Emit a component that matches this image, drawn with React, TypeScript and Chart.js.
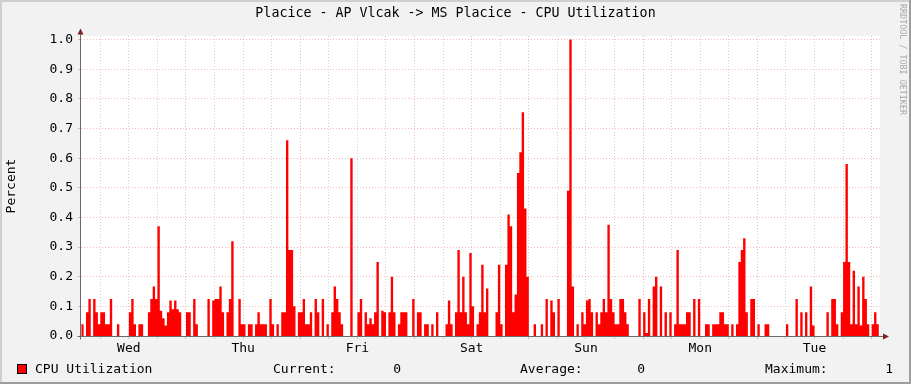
import React, { useEffect, useRef } from 'react';
import { Chart, registerables } from 'chart.js';

Chart.register(...registerables);

const TITLE = 'Placice - AP Vlcak -> MS Placice - CPU Utilization';
const Y_TITLE = 'Percent';
const SERIES_NAME = 'CPU Utilization';
const WATERMARK = 'RRDTOOL / TOBI OETIKER';
const DAY_LABELS = ['Wed', 'Thu', 'Fri', 'Sat', 'Sun', 'Mon', 'Tue'];
const LEGEND_STATS: [string, string][] = [
  ['Current:', '0'],
  ['Average:', '0'],
  ['Maximum:', '1'],
];
// hours after Wed 00:00
const X_TICKS = [6, 12, 18, 24, 30, 36, 42, 48, 54, 60, 66, 72, 78, 84, 90, 96, 102, 108, 114, 120, 126, 132, 138, 144, 150, 156, 162, 168];
const Y_TICKS = [0, 0.1, 0.2, 0.3, 0.4, 0.5, 0.6, 0.7, 0.8, 0.9, 1.0];
const X_MIN = 1.95;
const X_MAX = 169.75;
const Y_MAX = 1.012;
const START_HOUR = 2;
const STEP_HOURS = 0.5;

// CPU utilisation, one value per 30 minutes, starting Wed 02:00
const cpu = [
  0.04, 0, 0.08, 0.125, 0, 0.125, 0.08, 0.04, 0.08, 0.08, 0.04, 0.04, 0.125, 0, 0, 0.04, 0, 0, 0, 0, 0.08, 0.125, 0.04, 0,
  0.04, 0.04, 0, 0, 0.08, 0.125, 0.167, 0.125, 0.37, 0.085, 0.06, 0.035, 0.08, 0.12, 0.09, 0.12, 0.09, 0.08, 0, 0, 0.08, 0.08, 0, 0.125,
  0.04, 0, 0, 0, 0, 0.125, 0, 0.12, 0.125, 0.125, 0.167, 0.08, 0, 0.08, 0.125, 0.32, 0, 0, 0.125, 0.04, 0.04, 0, 0.04, 0.04,
  0, 0.04, 0.08, 0.04, 0.04, 0.04, 0, 0.125, 0.04, 0, 0.04, 0, 0.08, 0.08, 0.66, 0.29, 0.29, 0.1, 0, 0.08, 0.08, 0.125, 0.04, 0.04,
  0.08, 0, 0.125, 0.08, 0, 0.125, 0, 0.04, 0, 0.08, 0.167, 0.125, 0.08, 0.04, 0, 0, 0, 0.6, 0, 0, 0.08, 0.125, 0, 0.08,
  0.04, 0.06, 0.04, 0.08, 0.25, 0, 0.085, 0.08, 0, 0.08, 0.2, 0.08, 0, 0.04, 0.08, 0.08, 0.08, 0, 0, 0.125, 0, 0.08, 0.08, 0,
  0.04, 0.04, 0, 0.04, 0, 0.08, 0, 0, 0, 0.04, 0.12, 0.04, 0, 0.08, 0.29, 0.08, 0.2, 0.08, 0.04, 0.28, 0.1, 0, 0.04, 0.08,
  0.24, 0.08, 0.16, 0, 0, 0, 0.08, 0.24, 0.04, 0, 0.24, 0.41, 0.37, 0.08, 0.14, 0.55, 0.62, 0.755, 0.43, 0.2, 0, 0, 0.04, 0,
  0, 0.04, 0, 0.125, 0, 0.12, 0.08, 0, 0.125, 0, 0, 0, 0.49, 1.0, 0.167, 0, 0.04, 0, 0.08, 0.04, 0.12, 0.125, 0.08, 0,
  0.08, 0.04, 0.08, 0.125, 0.08, 0.375, 0.125, 0.08, 0.04, 0.04, 0.125, 0.125, 0.08, 0.04, 0, 0, 0, 0, 0.125, 0, 0.08, 0.01, 0.125, 0,
  0.167, 0.2, 0, 0.167, 0, 0.08, 0, 0.08, 0, 0.04, 0.29, 0.04, 0.04, 0.04, 0.08, 0.08, 0, 0.125, 0, 0.125, 0, 0, 0.04, 0.04,
  0, 0.04, 0.04, 0.04, 0.08, 0.08, 0.04, 0.04, 0, 0.04, 0, 0.04, 0.25, 0.29, 0.33, 0.08, 0, 0.125, 0.125, 0, 0.04, 0, 0, 0.04,
  0.04, 0, 0, 0, 0, 0, 0, 0, 0.04, 0, 0, 0, 0.125, 0, 0.08, 0, 0.08, 0, 0.167, 0.035, 0, 0, 0, 0,
  0, 0.08, 0, 0.125, 0.125, 0.04, 0, 0.08, 0.25, 0.58, 0.25, 0.04, 0.22, 0.04, 0.167, 0.035, 0.2, 0.125, 0.04, 0, 0.04, 0.08, 0.04, 0,
];

const FONT = 'DejaVu Sans Mono';
const MINOR_GRID = 'rgba(143,143,143,0.4)';
const MAJOR_GRID = 'rgba(222,79,79,0.38)';

const decor = {
  id: 'rrdDecor',
  beforeDraw(chart: any) {
    const { ctx, width, height, chartArea } = chart;
    ctx.save();
    ctx.fillStyle = '#F2F2F2';
    ctx.fillRect(0, 0, width, height);
    ctx.fillStyle = '#CFCFCF';
    ctx.fillRect(0, 0, width, 2);
    ctx.fillRect(0, 0, 2, height);
    ctx.fillStyle = '#9E9E9E';
    ctx.fillRect(0, height - 2, width, 2);
    ctx.fillRect(width - 2, 0, 2, height);
    ctx.fillStyle = '#FFFFFF';
    ctx.fillRect(chartArea.left, chartArea.top, chartArea.right - chartArea.left, chartArea.bottom - chartArea.top);
    ctx.restore();
  },
  afterDraw(chart: any) {
    const { ctx, width, chartArea } = chart;
    const ax = chartArea.left - 0.5;
    const ay = chartArea.bottom + 0.5;
    ctx.save();
    // axes
    ctx.strokeStyle = '#6A6A6A';
    ctx.lineWidth = 1;
    ctx.beginPath();
    ctx.moveTo(ax, ay + 3);
    ctx.lineTo(ax, chartArea.top - 3);
    ctx.moveTo(ax - 3, ay);
    ctx.lineTo(chartArea.right + 4, ay);
    ctx.stroke();
    // arrows
    ctx.fillStyle = '#7F1F1F';
    ctx.beginPath();
    ctx.moveTo(ax - 3, chartArea.top - 1.5);
    ctx.lineTo(ax + 3, chartArea.top - 1.5);
    ctx.lineTo(ax, chartArea.top - 7.5);
    ctx.closePath();
    ctx.fill();
    ctx.beginPath();
    ctx.moveTo(chartArea.right + 3, ay - 3);
    ctx.lineTo(chartArea.right + 3, ay + 3);
    ctx.lineTo(chartArea.right + 9, ay);
    ctx.closePath();
    ctx.fill();

    // title
    ctx.fillStyle = '#000';
    ctx.font = `13.3px "${FONT}"`;
    ctx.textAlign = 'center';
    ctx.textBaseline = 'middle';
    ctx.fillText(TITLE, width / 2, 14);

    // y title
    ctx.font = `13px "${FONT}"`;
    ctx.save();
    ctx.translate(12, 186);
    ctx.rotate(-Math.PI / 2);
    ctx.fillText(Y_TITLE, 0, 0);
    ctx.restore();

    // watermark
    ctx.save();
    ctx.translate(902, 4);
    ctx.rotate(Math.PI / 2);
    ctx.textAlign = 'left';
    ctx.fillStyle = '#A8A8A8';
    ctx.font = `8.4px "${FONT}"`;
    ctx.fillText(WATERMARK, 0, 0);
    ctx.restore();

    // legend
    ctx.fillStyle = '#FF0000';
    ctx.fillRect(17, 364, 10, 10);
    ctx.strokeStyle = '#000';
    ctx.strokeRect(17.5, 364.5, 9, 9);
    ctx.fillStyle = '#000';
    ctx.font = `13px "${FONT}"`;
    ctx.textAlign = 'left';
    ctx.textBaseline = 'alphabetic';
    ctx.fillText(SERIES_NAME, 35, 373);
    const labelX = [273, 520, 765];
    const valueRight = [401, 645, 893];
    LEGEND_STATS.forEach(([label, value], i) => {
      ctx.textAlign = 'left';
      ctx.fillText(label, labelX[i], 373);
      ctx.textAlign = 'right';
      ctx.fillText(value, valueRight[i], 373);
    });
    ctx.restore();
  },
};

export default function App() {
  const ref = useRef<HTMLCanvasElement>(null);
  useEffect(() => {
    document.body.style.margin = '0';
    const points = cpu.map((v, i) => ({ x: START_HOUR + i * STEP_HOURS, y: v }));
    points.push({ x: START_HOUR + cpu.length * STEP_HOURS, y: cpu[cpu.length - 1] });
    const chart = new Chart(ref.current as HTMLCanvasElement, {
      type: 'line',
      data: {
        datasets: [
          {
            label: SERIES_NAME,
            data: points,
            stepped: true,
            fill: 'origin',
            backgroundColor: '#FF0000',
            borderColor: 'rgba(0,0,0,0)',
            borderWidth: 0,
            pointRadius: 0,
          },
        ],
      },
      options: {
        animation: false,
        responsive: false,
        events: [],
        layout: { padding: { left: 0, right: 31, top: 36, bottom: 0 } },
        plugins: { legend: { display: false }, tooltip: { enabled: false }, title: { display: false } },
        scales: {
          x: {
            type: 'linear',
            min: X_MIN,
            max: X_MAX,
            afterBuildTicks: (s: any) => {
              s.ticks = X_TICKS.map((v) => ({ value: v }));
            },
            afterFit: (s: any) => {
              s.height = 48;
            },
            grid: {
              color: (c: any) => (c.tick && c.tick.value % 24 === 0 ? MAJOR_GRID : MINOR_GRID),
              tickColor: (c: any) => (c.tick && c.tick.value % 24 === 0 ? MAJOR_GRID : MINOR_GRID),
              tickLength: 3,
              lineWidth: 1,
            },
            border: { display: false, dash: [1, 2] },
            ticks: {
              autoSkip: false,
              maxRotation: 0,
              padding: 2,
              color: '#000',
              font: { family: FONT, size: 13 },
              callback: (v: any) => (v % 24 === 12 ? DAY_LABELS[(v - 12) / 24] : ''),
            },
          },
          y: {
            type: 'linear',
            min: 0,
            max: Y_MAX,
            afterBuildTicks: (s: any) => {
              s.ticks = Y_TICKS.map((v) => ({ value: v }));
            },
            afterFit: (s: any) => {
              s.width = 81;
            },
            grid: { color: MAJOR_GRID, tickColor: MAJOR_GRID, tickLength: 3, lineWidth: 1 },
            border: { display: false, dash: [1, 2] },
            ticks: {
              padding: 5,
              color: '#000',
              font: { family: FONT, size: 13 },
              callback: (v: any) => Number(v).toFixed(1),
            },
          },
        },
      },
      plugins: [decor],
    });
    return () => chart.destroy();
  }, []);
  return <canvas ref={ref} width={911} height={384} style={{ display: 'block' }} />;
}
